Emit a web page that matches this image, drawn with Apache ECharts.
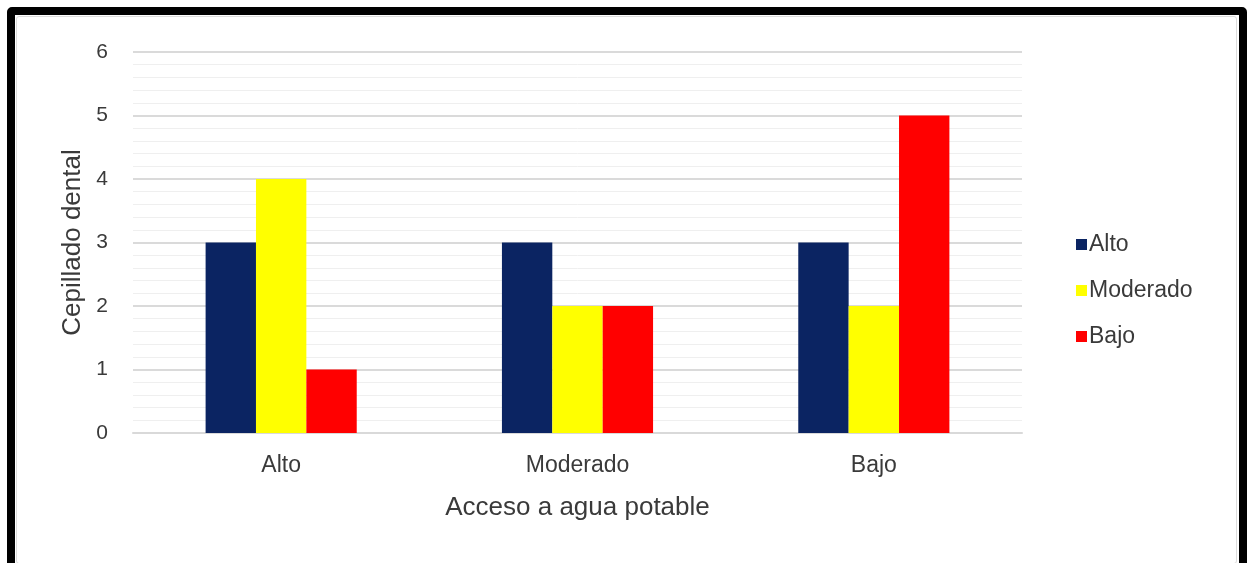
<!DOCTYPE html>
<html>
<head>
<meta charset="utf-8">
<script src="https://cdn.jsdelivr.net/npm/echarts@6/dist/echarts.min.js"></script>
<style>
  html, body { margin: 0; padding: 0; background: #fff; }
  #marco {
    position: absolute; left: 7px; top: 7px; width: 1240px; height: 570px;
    box-sizing: border-box; border: 8px solid #000; border-radius: 5px;
  }
  #interior {
    position: absolute; left: 1px; top: 1px; right: 2px; bottom: 5px;
    border: 1px solid #dcdcdc; border-radius: 3px;
  }
  #grafico { position: absolute; left: 0; top: 0; width: 1254px; height: 563px; }
</style>
</head>
<body>
<div id="marco"><div id="interior"></div></div>
<div id="grafico"></div>
<script>
// datos
const categorias = ['Alto', 'Moderado', 'Bajo'];
const serieAlto = [3, 3, 3];
const serieModerado = [4, 2, 2];
const serieBajo = [1, 2, 5];

const fuente = 'Liberation Sans';
const colorTexto = '#3a3a3a';

const chart = echarts.init(document.getElementById('grafico'));

chart.setOption({
    animation: false,
    textStyle: { fontFamily: fuente },
    legend: {
        orient: 'vertical',
        left: 1071,
        top: 228,
        icon: 'rect',
        itemWidth: 11,
        itemHeight: 11,
        itemGap: 23,
        textStyle: { fontFamily: fuente, fontSize: 23, color: colorTexto, padding: [0, 0, 0, -3] },
        data: ['Alto', 'Moderado', 'Bajo']
    },
    grid: { left: 133, right: 232, top: 52, bottom: 130 },
    xAxis: {
        type: 'category',
        data: categorias,
        name: 'Acceso a agua potable',
        nameLocation: 'middle',
        nameGap: 62,
        nameTextStyle: { fontFamily: fuente, fontSize: 26, color: colorTexto },
        axisLine: { show: true, lineStyle: { color: '#d9d9d9', width: 2 } },
        axisTick: { show: false },
        axisLabel: { fontFamily: fuente, fontSize: 23, color: colorTexto, margin: 21 }
    },
    yAxis: {
        type: 'value',
        min: 0,
        max: 6,
        interval: 1,
        name: 'Cepillado dental',
        nameLocation: 'middle',
        nameGap: 42,
        nameTextStyle: { fontFamily: fuente, fontSize: 26, color: colorTexto },
        axisLabel: { fontFamily: fuente, fontSize: 21, color: colorTexto, margin: 25 },
        splitLine: { lineStyle: { color: '#dadada', width: 2 } },
        minorTick: { show: false, splitNumber: 5 },
        minorSplitLine: { show: true, lineStyle: { color: '#efefef', width: 1 } }
    },
    series: [
        {
            name: 'Alto', type: 'bar', data: serieAlto,
            itemStyle: { color: '#0b2462' },
            barGap: '0%', barCategoryGap: '49%'
        },
        {
            name: 'Moderado', type: 'bar', data: serieModerado,
            itemStyle: { color: '#ffff00' }
        },
        {
            name: 'Bajo', type: 'bar', data: serieBajo,
            itemStyle: { color: '#ff0000' }
        }
    ]
});
</script>
</body>
</html>
